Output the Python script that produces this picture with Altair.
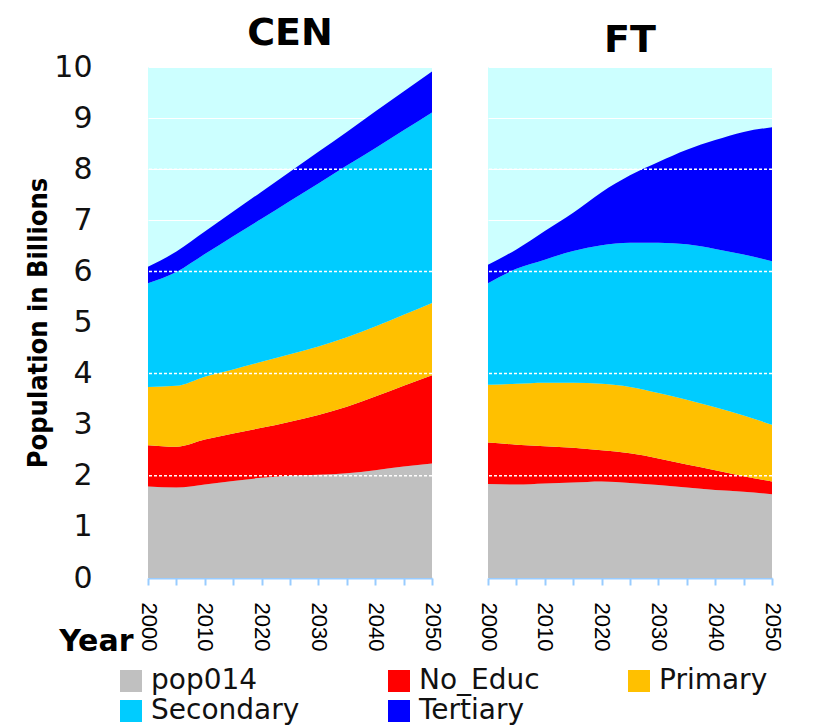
import altair as alt
import pandas as pd

years = [2000, 2005, 2010, 2015, 2020, 2025, 2030, 2035, 2040, 2045, 2050]
categories = ["pop014", "No_Educ", "Primary", "Secondary", "Tertiary"]
colors = ["#c0c0c0", "#ff0000", "#ffc000", "#00ccff", "#0000ff"]
scenarios = ["CEN", "FT"]

# Population in billions, by education group (stacked)
cen_pop014 = [1.79, 1.77, 1.83, 1.90, 1.96, 2.00, 2.02, 2.05, 2.11, 2.18, 2.24]
cen_no_educ = [0.81, 0.80, 0.88, 0.93, 0.98, 1.06, 1.17, 1.30, 1.44, 1.58, 1.73]
cen_primary = [1.14, 1.19, 1.23, 1.25, 1.29, 1.32, 1.34, 1.36, 1.37, 1.39, 1.41]
cen_secondary = [2.03, 2.23, 2.40, 2.61, 2.80, 3.00, 3.19, 3.36, 3.49, 3.61, 3.73]
cen_tertiary = [0.32, 0.40, 0.44, 0.48, 0.53, 0.57, 0.62, 0.66, 0.72, 0.76, 0.80]

ft_pop014 = [1.84, 1.83, 1.85, 1.87, 1.89, 1.86, 1.82, 1.77, 1.72, 1.69, 1.64]
ft_no_educ = [0.81, 0.78, 0.73, 0.68, 0.61, 0.58, 0.52, 0.45, 0.39, 0.30, 0.25]
ft_primary = [1.13, 1.19, 1.24, 1.27, 1.30, 1.30, 1.28, 1.27, 1.23, 1.19, 1.11]
ft_secondary = [1.99, 2.25, 2.41, 2.58, 2.71, 2.82, 2.94, 3.04, 3.10, 3.15, 3.20]
ft_tertiary = [0.36, 0.38, 0.56, 0.75, 1.04, 1.32, 1.58, 1.85, 2.13, 2.40, 2.62]

y_ticks = [0, 1, 2, 3, 4, 5, 6, 7, 8, 9, 10]
dashed_grid = [2, 4, 6, 8]

series = {
    "CEN": [cen_pop014, cen_no_educ, cen_primary, cen_secondary, cen_tertiary],
    "FT": [ft_pop014, ft_no_educ, ft_primary, ft_secondary, ft_tertiary],
}

rows = []
for scn in scenarios:
    for k, (cat, vals) in enumerate(zip(categories, series[scn])):
        for yr, v in zip(years, vals):
            rows.append({"scenario": scn, "year": yr, "category": cat,
                         "value": v, "order": k})
df = pd.DataFrame(rows)
grid_df = pd.DataFrame({"v": dashed_grid})

FONT = "DejaVu Sans"


def panel(scn, first):
    x_axis = alt.Axis(
        values=years,
        labelExpr="datum.value % 10 == 0 ? format(datum.value, 'd') : ''",
        labelAngle=90, labelAlign="left", labelBaseline="middle",
        labelFont="Liberation Sans", labelFontSize=22, labelColor="black",
        labelPadding=17, tickSize=7, tickColor="#99ccff", tickWidth=2,
        domainColor="#99ccff", domainWidth=2, grid=False,
        title="Year" if first else None,
        titleFont=FONT, titleFontSize=30, titleFontWeight="bold",
        titleColor="black", titleX=-15, titleY=63, titleAlign="right",
        titleBaseline="middle",
    )
    if first:
        y_axis = alt.Axis(
            values=y_ticks, grid=True, gridColor="white", gridWidth=1,
            domain=False, ticks=False, tickSize=0,
            labelFont=FONT, labelFontSize=30, labelColor="#111111",
            labelPadding=56,
            title="Population in Billions",
            titleFont="DejaVu Sans Condensed, Liberation Sans, sans-serif",
            titleFontSize=27,
            titleFontWeight="bold", titleColor="black",
            titleX=-110, titleBaseline="middle", titleAngle=-90,
        )
    else:
        y_axis = alt.Axis(
            values=y_ticks, grid=True, gridColor="white", gridWidth=1,
            domain=False, ticks=False, tickSize=0, labels=False, title=None,
        )
    ytitle = "Population in Billions" if first else None
    area = alt.Chart(df[df.scenario == scn]).mark_area(
        interpolate="monotone", opacity=1
    ).encode(
        x=alt.X("year:Q", scale=alt.Scale(domain=[2000, 2050], nice=False, zero=False),
                axis=x_axis),
        y=alt.Y("value:Q", stack="zero", scale=alt.Scale(domain=[0, 10], nice=False),
                axis=y_axis, title=ytitle),
        color=alt.Color(
            "category:N",
            scale=alt.Scale(domain=categories, range=colors),
            legend=alt.Legend(
                title=None, orient="none", legendX=-31, legendY=600,
                direction="horizontal", columns=3, gridAlign="each",
                columnPadding=85, rowPadding=2,
                symbolType="square", symbolSize=484, symbolStrokeWidth=0,
                symbolOpacity=1, labelFont=FONT, labelFontSize=28,
                labelColor="#111111", labelOffset=6, labelLimit=400,
            ),
        ),
        order=alt.Order("order:Q", sort="ascending"),
    )
    rules = alt.Chart(grid_df).mark_rule(
        color="white", strokeDash=[3, 2], strokeWidth=1.5
    ).encode(y=alt.Y("v:Q", title=ytitle))
    return alt.layer(area, rules).properties(
        width=284, height=511,
        title=alt.TitleParams(
            scn, font=FONT, fontSize=38, fontWeight="bold", color="black",
            anchor="middle", baseline="bottom", offset=-39 if first else -31,
        ),
    )


chart = alt.hconcat(
    panel("CEN", True), panel("FT", False), spacing=34,
    padding={"left": 15, "top": 7, "right": 5, "bottom": 0},
    background="white",
).configure_view(
    fill="#ccffff", strokeWidth=0
)

chart.save("out.html", embed_options={"renderer": "svg", "actions": False})
